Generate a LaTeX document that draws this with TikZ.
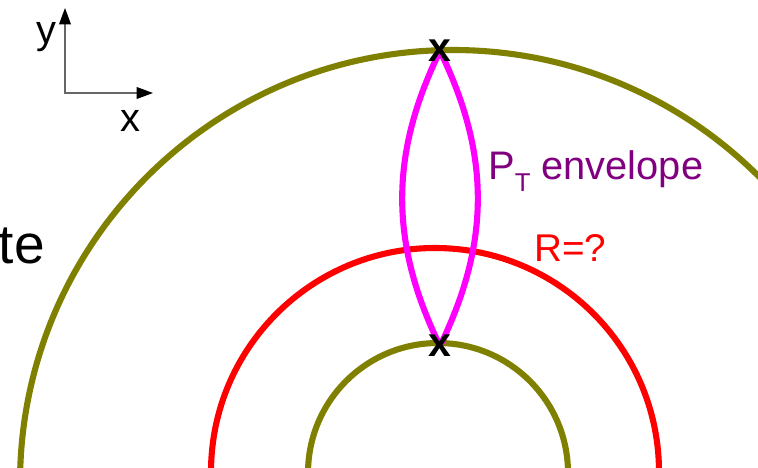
\documentclass[tikz,border=0pt]{standalone}
\usepackage{fontspec}
\setmainfont{Liberation Sans}
\usetikzlibrary{arrows.meta}
\definecolor{ringolive}{RGB}{128,128,0}
\definecolor{ringred}{RGB}{255,0,0}
\definecolor{lensmag}{RGB}{255,0,255}
\definecolor{lblpurple}{RGB}{128,0,128}

\begin{document}
\begin{tikzpicture}[
    x=0.03cm, y=0.03cm,
    ring/.style={draw=#1, line width=5.2pt},
    lens/.style={draw=lensmag, line width=5.2pt},
    axis/.style={draw=black!60, line width=1.3pt,
                 {Triangle[length=14pt, width=10pt, black]}-{Triangle[length=14pt, width=10pt, black]}},
    hit/.style={font=\fontsize{35}{35}\selectfont\bfseries, inner sep=0pt, text=black},
    lbl/.style={anchor=base west, inner sep=0pt, font=\fontsize{#1}{#1}\selectfont},
]
\useasboundingbox (0,0) rectangle (758,467);
\clip (0,0) rectangle (758,467);

% --- Rings ---
\coordinate (cbig)   at (453,-16);
\coordinate (cred)   at (435,-5);
\coordinate (csmall) at (438,-6);
\draw[ring=ringolive] (cbig)   circle[radius=433];
\draw[ring=ringred]   (cred)   circle[radius=224];
\draw[ring=ringolive] (csmall) circle[radius=130];

% --- Envelope between the two hits ---
\coordinate (ptop) at (440,416);
\coordinate (pbot) at (440,121);
\draw[lens] (ptop) to[bend left=26]  (pbot);
\draw[lens] (ptop) to[bend right=26] (pbot);

% --- Hits ---
\node[hit] (hittop) at (ptop) {x};
\node[hit] (hitbot) at (pbot) {x};

% --- Axes ---
\coordinate (orig) at (65,374);
\coordinate (ytip) at (65,459);
\coordinate (xtip) at (153,374);
\draw[axis] (ytip) -- (orig) -- (xtip);
\node[lbl=34] (ylbl) at (36,423) {y};
\node[lbl=34] (xlbl) at (120,335) {x};

% --- Labels ---
\node[lbl=47, anchor=base east] (cutlbl) at (45,204) {te};
\node[lbl=34, text=lblpurple] (envlbl) at (488,287)
    {P\raisebox{-10pt}{\fontsize{22}{22}\selectfont T} envelope};
\node[lbl=33, text=ringred] (rlbl) at (534,206) {R=?};
\end{tikzpicture}
\end{document}
